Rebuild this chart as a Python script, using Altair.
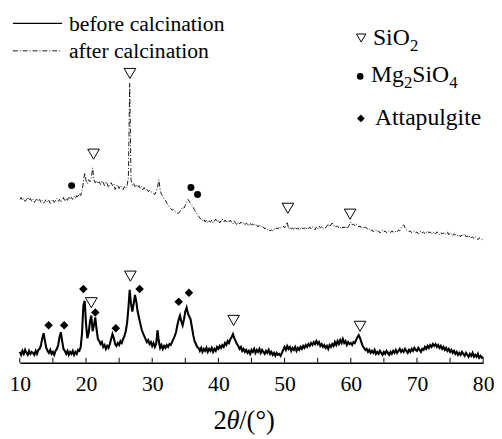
import altair as alt
import pandas as pd

# ---------------- data ----------------
scan_start, scan_step = 10.0, 0.2   # 2-theta scan grid, 10..80 deg

# intensity before calcination (arbitrary units), one value per grid step
before = [
    11, 8, 12, 9, 13, 10, 8, 12, 9, 11,
    10, 8, 12, 9, 13, 14, 18, 25, 30, 22,
    15, 12, 10, 13, 9, 11, 8, 12, 14, 18,
    26, 31, 22, 14, 12, 9, 12, 8, 11, 9,
    12, 8, 11, 9, 13, 12, 16, 30, 58, 63,
    40, 25, 30, 42, 48, 32, 38, 46, 34, 24,
    22, 19, 21, 16, 18, 14, 17, 15, 19, 24,
    29, 25, 19, 17, 20, 18, 22, 20, 24, 27,
    32, 40, 55, 74, 60, 52, 60, 69, 62, 52,
    46, 40, 34, 30, 27, 24, 21, 23, 19, 21,
    17, 20, 16, 19, 33, 22, 15, 18, 14, 17,
    15, 18, 16, 19, 18, 21, 24, 27, 31, 38,
    44, 48, 42, 38, 44, 52, 56, 50, 47, 44,
    36, 28, 22, 19, 16, 15, 12, 15, 11, 14,
    12, 15, 11, 14, 12, 15, 11, 14, 12, 16,
    14, 17, 15, 18, 16, 20, 18, 22, 20, 24,
    26, 29, 25, 22, 19, 17, 14, 16, 12, 14,
    11, 13, 10, 12, 9, 13, 11, 14, 10, 13,
    11, 14, 10, 13, 11, 9, 12, 10, 13, 9,
    11, 8, 10, 7, 10, 8, 9, 7, 10, 13,
    16, 13, 17, 14, 16, 12, 15, 13, 16, 12,
    15, 13, 16, 14, 17, 15, 18, 16, 19, 17,
    20, 18, 21, 19, 22, 19, 21, 17, 19, 16,
    18, 15, 17, 14, 18, 16, 19, 17, 21, 18,
    22, 19, 23, 20, 24, 20, 22, 18, 21, 19,
    20, 18, 21, 20, 23, 26, 28, 25, 21, 17,
    15, 13, 14, 11, 13, 10, 12, 10, 13, 9,
    11, 9, 12, 10, 8, 11, 9, 12, 10, 8,
    11, 9, 12, 10, 13, 10, 12, 14, 11, 13,
    11, 14, 12, 10, 13, 11, 14, 12, 15, 13,
    12, 15, 13, 11, 14, 13, 16, 14, 17, 15,
    18, 16, 19, 17, 19, 16, 18, 15, 17, 14,
    16, 13, 15, 12, 14, 11, 13, 10, 12, 9,
    11, 8, 10, 8, 11, 9, 7, 10, 8, 6,
    9, 7, 10, 6, 8, 6, 9, 5, 7, 5,
    6,
]

# intensity after calcination (arbitrary units, offset upwards)
after = [
    166, 168, 165, 167, 164, 166, 168, 165, 167, 164,
    166, 163, 165, 167, 164, 166, 163, 165, 162, 164,
    166, 163, 165, 162, 164, 166, 163, 165, 167, 164,
    166, 163, 165, 168, 164, 167, 165, 169, 166, 168,
    166, 169, 167, 170, 168, 172, 170, 175, 183, 193,
    185, 182, 186, 184, 188, 198, 186, 183, 185, 182,
    184, 181, 185, 183, 180, 184, 182, 178, 181, 183,
    180, 182, 176, 179, 181, 177, 180, 178, 176, 179,
    177, 180, 188, 284, 186, 180, 182, 179, 181, 178,
    180, 177, 179, 176, 178, 175, 177, 174, 175, 173,
    174, 172, 171, 174, 178, 186, 176, 171, 170, 167,
    165, 162, 161, 158, 157, 155, 156, 154, 153, 152,
    152, 154, 156, 158, 157, 160, 163, 166, 164, 162,
    160, 158, 155, 153, 151, 149, 147, 146, 144, 146,
    143, 145, 142, 144, 143, 145, 142, 144, 146, 143,
    145, 142, 144, 146, 143, 145, 143, 144, 142, 145,
    143, 141, 144, 142, 140, 143, 141, 143, 141, 142,
    140, 142, 141, 139, 142, 140, 141, 139, 141, 140,
    138, 140, 139, 137, 138, 136, 137, 135, 136, 134,
    135, 134, 136, 135, 137, 136, 138, 137, 138, 139,
    137, 140, 143, 136, 138, 136, 137, 135, 138, 136,
    137, 135, 136, 138, 136, 137, 135, 137, 136, 138,
    136, 138, 137, 135, 138, 136, 139, 137, 138, 136,
    138, 137, 139, 141, 138, 140, 142, 139, 140, 138,
    139, 137, 138, 136, 138, 137, 139, 136, 138, 140,
    143, 140, 141, 139, 141, 140, 138, 139, 137, 138,
    136, 138, 137, 135, 136, 134, 135, 133, 134, 135,
    133, 134, 132, 133, 135, 133, 134, 132, 133, 134,
    132, 134, 133, 132, 134, 133, 135, 134, 137, 139,
    140, 137, 135, 134, 133, 134, 132, 133, 134, 132,
    133, 131, 132, 134, 132, 133, 131, 132, 134, 132,
    133, 131, 132, 133, 131, 133, 132, 130, 132, 131,
    132, 130, 131, 133, 130, 132, 131, 129, 131, 130,
    131, 129, 130, 128, 130, 129, 131, 128, 129, 127,
    129, 127, 128, 126, 128, 127, 125, 127, 126, 125,
    126,
]

two_theta = [round(scan_start + scan_step * i, 1) for i in range(len(before))]

# phase markers (2-theta, height)
sio2_deg = [21.14, 26.64, 50.5, 59.9, 20.8, 26.7, 42.3, 61.4]
sio2_val = [212, 294, 157, 151, 61, 88, 43, 37]
mg_deg = [17.83, 35.85, 36.85]
mg_val = [180, 178, 171]
att_deg = [14.35, 16.7, 19.6, 21.4, 24.5, 28.1, 34.0, 35.55]
att_val = [38, 38, 75, 51, 35, 75, 62, 71]

tick_deg = [10, 15, 20, 25, 30, 35, 40, 45, 50, 55, 60, 65, 70, 75, 80]
label_deg = [10, 20, 30, 40, 50, 60, 70, 80]

FONT = "Times New Roman, Liberation Serif, Times, serif"

# ---------------- chart ----------------
xs = alt.Scale(domain=[10, 80], nice=False, zero=False)
ys = alt.Scale(domain=[0, 357], nice=False, zero=False)

df_before = pd.DataFrame({"t": two_theta, "v": before})
df_after = pd.DataFrame({"t": two_theta, "v": after})

base_x = alt.X(
    "t:Q", scale=xs,
    axis=alt.Axis(values=label_deg, ticks=False, tickSize=0, grid=False,
                  labelFont=FONT, labelFontSize=22, labelColor="black",
                  labelPadding=11, labelFlush=False,
                  domainColor="black", domainWidth=1.5, title=None),
)
base_y = alt.Y("v:Q", scale=ys, axis=None)

before_line = alt.Chart(df_before).mark_line(
    color="black", strokeWidth=2.1
).encode(x=base_x, y=base_y)

after_line = alt.Chart(df_after).mark_line(
    color="black", strokeWidth=0.9, strokeDash=[5, 2, 1, 2]
).encode(x="t:Q", y="v:Q")

ticks = alt.Chart(pd.DataFrame({"t": tick_deg, "v": [0] * len(tick_deg),
                                "v2": [5] * len(tick_deg)})).mark_rule(
    color="black", strokeWidth=1
).encode(x="t:Q", y="v:Q", y2="v2:Q")

tri = alt.Chart(pd.DataFrame({"t": sio2_deg, "v": sio2_val})).mark_point(
    shape="triangle-down", filled=False, color="black", strokeWidth=1,
    size=140, opacity=1
).encode(x="t:Q", y="v:Q")

circ = alt.Chart(pd.DataFrame({"t": mg_deg, "v": mg_val})).mark_point(
    shape="circle", filled=True, color="black", size=50, opacity=1
).encode(x="t:Q", y="v:Q")

diam = alt.Chart(pd.DataFrame({"t": att_deg, "v": att_val})).mark_point(
    shape="diamond", filled=True, color="black", size=75, opacity=1
).encode(x="t:Q", y="v:Q")

# ---- legend (pixel positions relative to plot area) ----
leg_lines = pd.DataFrame({"px": [-7, -7], "px2": [43, 43], "py": [12, 40],
                          "kind": ["before", "after"]})
solid_leg = alt.Chart(leg_lines[leg_lines.kind == "before"]).mark_rule(
    color="black", strokeWidth=1.2
).encode(x=alt.X("px:Q", scale=None, axis=None), x2="px2:Q",
         y=alt.Y("py:Q", scale=None, axis=None))
dash_leg = alt.Chart(leg_lines[leg_lines.kind == "after"]).mark_rule(
    color="black", strokeWidth=0.9, strokeDash=[5, 2, 1, 2]
).encode(x=alt.X("px:Q", scale=None, axis=None), x2="px2:Q",
         y=alt.Y("py:Q", scale=None, axis=None))

left_text = pd.DataFrame({
    "label": ["before calcination", "after calcination"],
    "px": [50, 50],
    "py": [20, 47],
})
right_text = pd.DataFrame({
    "label": ["SiO", "Mg", "SiO", "Attapulgite"],
    "px": [359, 357, 399, 361],
    "py": [34, 72, 72, 115],
})
sub_text = pd.DataFrame({
    "label": ["2", "2", "4"],
    "px": [396.5, 390.5, 436.5],
    "py": [40, 78, 78],
})
txt_left = alt.Chart(left_text).mark_text(
    font=FONT, fontSize=22, align="left", baseline="alphabetic", color="black"
).encode(x=alt.X("px:Q", scale=None, axis=None),
         y=alt.Y("py:Q", scale=None, axis=None), text="label:N")
txt_right = alt.Chart(right_text).mark_text(
    font=FONT, fontSize=24, align="left", baseline="alphabetic", color="black"
).encode(x=alt.X("px:Q", scale=None, axis=None),
         y=alt.Y("py:Q", scale=None, axis=None), text="label:N")
txt_sub = alt.Chart(sub_text).mark_text(
    font=FONT, fontSize=17, align="left", baseline="alphabetic", color="black"
).encode(x=alt.X("px:Q", scale=None, axis=None),
         y=alt.Y("py:Q", scale=None, axis=None), text="label:N")

leg_tri = alt.Chart(pd.DataFrame({"px": [347], "py": [27]})).mark_point(
    shape="triangle-down", filled=False, color="black", strokeWidth=1,
    size=90, opacity=1
).encode(x=alt.X("px:Q", scale=None, axis=None),
         y=alt.Y("py:Q", scale=None, axis=None))
leg_circ = alt.Chart(pd.DataFrame({"px": [346], "py": [66]})).mark_point(
    shape="circle", filled=True, color="black", size=45, opacity=1
).encode(x=alt.X("px:Q", scale=None, axis=None),
         y=alt.Y("py:Q", scale=None, axis=None))
leg_diam = alt.Chart(pd.DataFrame({"px": [346.7], "py": [108.7]})).mark_point(
    shape="diamond", filled=True, color="black", size=60, opacity=1
).encode(x=alt.X("px:Q", scale=None, axis=None),
         y=alt.Y("py:Q", scale=None, axis=None))

# ---- axis title 2θ/(°) with italic theta ----
title_parts = pd.DataFrame({"label": ["2", "θ", "/(°)"],
                            "px": [197, 210, 223], "py": [424, 424, 424],
                            "style": ["normal", "italic", "normal"]})
title_norm = alt.Chart(title_parts[title_parts["style"] == "normal"]).mark_text(
    font=FONT, fontSize=27, align="left", baseline="alphabetic", color="black"
).encode(x=alt.X("px:Q", scale=None, axis=None),
         y=alt.Y("py:Q", scale=None, axis=None), text="label:N")
title_ital = alt.Chart(title_parts[title_parts["style"] == "italic"]).mark_text(
    font=FONT, fontSize=27, fontStyle="italic", align="left",
    baseline="alphabetic", color="black"
).encode(x=alt.X("px:Q", scale=None, axis=None),
         y=alt.Y("py:Q", scale=None, axis=None), text="label:N")

chart = alt.layer(
    before_line, after_line, ticks, tri, circ, diam,
    solid_leg, dash_leg, txt_left, txt_right, txt_sub,
    leg_tri, leg_circ, leg_diam, title_norm, title_ital,
).properties(
    width=471, height=357,
    autosize=alt.AutoSizeParams(type="none"),
    padding={"left": 12, "right": 11, "top": 0, "bottom": 74},
    background="white",
).configure_view(stroke=None)

chart.save("out.html", embed_options={"renderer": "svg", "actions": False})
